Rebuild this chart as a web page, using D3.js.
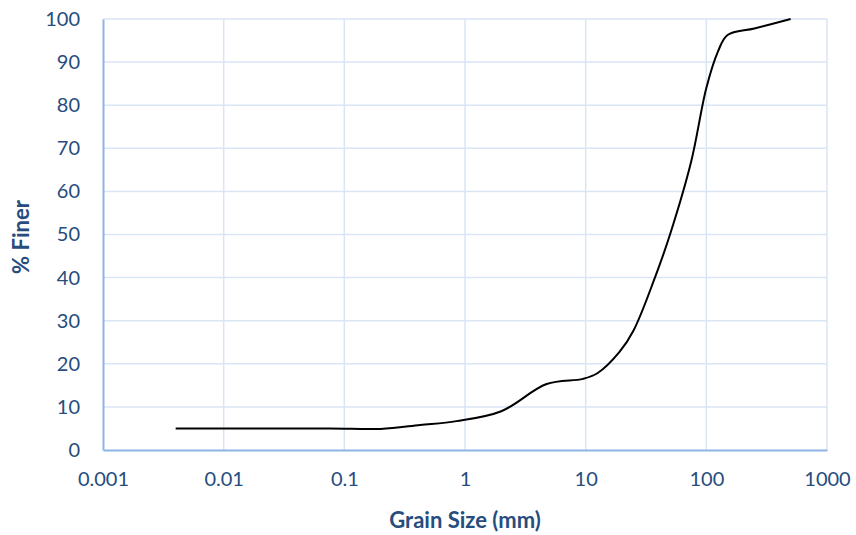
<!DOCTYPE html>
<html>
<head>
<meta charset="utf-8">
<script src="https://cdn.jsdelivr.net/npm/d3@7"></script>
<style>
  html, body { margin: 0; padding: 0; background: #fff; }
  svg { display: block; font-family: Lato, "Open Sans", sans-serif; }
</style>
</head>
<body>
<svg id="chart" width="856" height="535"></svg>
<script>
// Grain size distribution (sieve sizes in mm, cumulative % finer)
const grainSize = [0.004, 0.075, 0.2, 0.425, 0.85, 2, 4.75, 9.5, 12.5, 19, 25, 37.5, 50, 75, 100, 125, 150, 250, 500];
const percentFiner = [5, 5, 4.9, 5.8, 6.7, 9, 15.3, 16.5, 17.8, 22.7, 27.8, 40, 50, 67, 84, 92.5, 96.3, 97.8, 100];
const xTicks = [0.001, 0.01, 0.1, 1, 10, 100, 1000];
const xTickLabels = ["0.001", "0.01", "0.1", "1", "10", "100", "1000"];
const yTicks = [0, 10, 20, 30, 40, 50, 60, 70, 80, 90, 100];

const svg = d3.select("#chart");
const margin = { left: 103, right: 29, top: 19, bottom: 85 };
const W = 856, H = 535;

const x = d3.scaleLog().domain([0.001, 1000]).range([margin.left, W - margin.right]);
const y = d3.scaleLinear().domain([0, 100]).range([H - margin.bottom, margin.top]);

const textColor = "#264D7E";
const gridColor = "#D9E5F5";
const axisColor = "#8EB4E3";

// gridlines
svg.append("g").selectAll("line.v").data(xTicks.slice(1)).join("line")
  .attr("x1", d => x(d)).attr("x2", d => x(d))
  .attr("y1", y(0)).attr("y2", y(100))
  .attr("stroke", gridColor).attr("stroke-width", 1.5);
svg.append("g").selectAll("line.h").data(yTicks.slice(1)).join("line")
  .attr("x1", x(0.001)).attr("x2", x(1000))
  .attr("y1", d => y(d)).attr("y2", d => y(d))
  .attr("stroke", gridColor).attr("stroke-width", 1.5);

// axes
const xAxis = d3.axisBottom(x).tickValues(xTicks)
  .tickFormat((d, i) => xTickLabels[i]).tickSize(0).tickPadding(22);
const gx = svg.append("g").attr("transform", `translate(0,${y(0)})`).call(xAxis);
gx.select(".domain").attr("stroke", axisColor).attr("stroke-width", 2);
gx.selectAll("text").attr("fill", textColor).attr("font-size", 20).attr("font-family", "Lato");

const yAxis = d3.axisLeft(y).tickValues(yTicks).tickSize(0).tickPadding(23);
const gy = svg.append("g").attr("transform", `translate(${x(0.001)},0)`).call(yAxis);
gy.select(".domain").attr("stroke", axisColor).attr("stroke-width", 2);
gy.selectAll("text").attr("fill", textColor).attr("font-size", 20).attr("font-family", "Lato");

// smoothed gradation curve
const line = d3.line()
  .x((d, i) => x(grainSize[i]))
  .y((d, i) => y(percentFiner[i]))
  .curve(d3.curveCatmullRom.alpha(0.5));
svg.append("path").datum(percentFiner)
  .attr("d", line)
  .attr("fill", "none").attr("stroke", "#000").attr("stroke-width", 2);

// axis titles
svg.append("text").attr("x", 465).attr("y", 528)
  .attr("text-anchor", "middle").attr("font-weight", "bold")
  .attr("font-size", 22).attr("fill", textColor).text("Grain Size (mm)");
svg.append("text").attr("transform", "translate(29,237) rotate(-90)")
  .attr("text-anchor", "middle").attr("font-weight", "bold")
  .attr("font-size", 22).attr("fill", textColor).text("% Finer");
</script>
</body>
</html>
